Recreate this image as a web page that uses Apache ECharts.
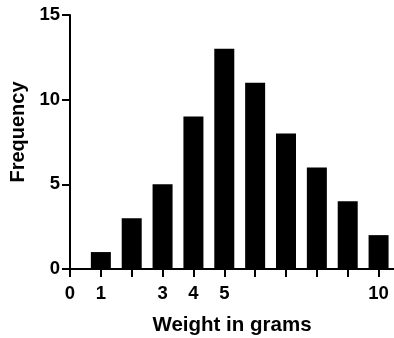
<!DOCTYPE html>
<html>
<head>
<meta charset="utf-8">
<script src="https://cdn.jsdelivr.net/npm/echarts@6/dist/echarts.min.js"></script>
<style>html,body{margin:0;padding:0;background:#fff}#c{width:394px;height:338px}</style>
</head>
<body>
<div id="c"></div>
<script>
var weights = [1, 2, 3, 4, 5, 6, 7, 8, 9, 10];
var frequency = [1, 3, 5, 9, 13, 11, 8, 6, 4, 2];
var xTickValues = [0, 1, 2, 3, 4, 5, 6, 7, 8, 9, 10];
var xLabelValues = [0, 1, 3, 4, 5, 10];
var yTicks = [0, 5, 10, 15];

var font = 'Liberation Sans, Arial, Helvetica, sans-serif';
var chart = echarts.init(document.getElementById('c'), null, {renderer: 'canvas'});
chart.setOption({
  animation: false,
  grid: {left: 70, right: 0, top: 15, bottom: 69, containLabel: false, outerBoundsMode: 'none'},
  xAxis: {
    type: 'value', min: 0, max: 10.5, interval: 1,
    name: 'Weight in grams', nameLocation: 'middle', nameGap: 46,
    nameTextStyle: {fontFamily: font, fontWeight: 'bold', fontSize: 20.5, color: '#000'},
    axisLine: {onZero: false, lineStyle: {color: '#000', width: 2}},
    axisTick: {show: true, length: 8, lineStyle: {color: '#000', width: 2}, customValues: xTickValues},
    axisLabel: {fontFamily: font, fontWeight: 'bold', fontSize: 18.5, color: '#000', margin: 15, customValues: xLabelValues},
    splitLine: {show: false}
  },
  yAxis: {
    type: 'value', min: 0, max: 15, interval: 5,
    name: 'Frequency', nameLocation: 'middle', nameGap: 37,
    nameTextStyle: {fontFamily: font, fontWeight: 'bold', fontSize: 20, color: '#000', padding: [0, 0, 0, 20]},
    axisLine: {show: true, lineStyle: {color: '#000', width: 2}},
    axisTick: {show: true, length: 8, lineStyle: {color: '#000', width: 2}, customValues: yTicks},
    axisLabel: {fontFamily: font, fontWeight: 'bold', fontSize: 18.5, color: '#000', margin: 10, customValues: yTicks},
    splitLine: {show: false}
  },
  series: [{
    type: 'bar',
    barWidth: 20,
    itemStyle: {color: '#000'},
    data: weights.map(function (w, i) { return [w, frequency[i]]; })
  }]
});
</script>
</body>
</html>
